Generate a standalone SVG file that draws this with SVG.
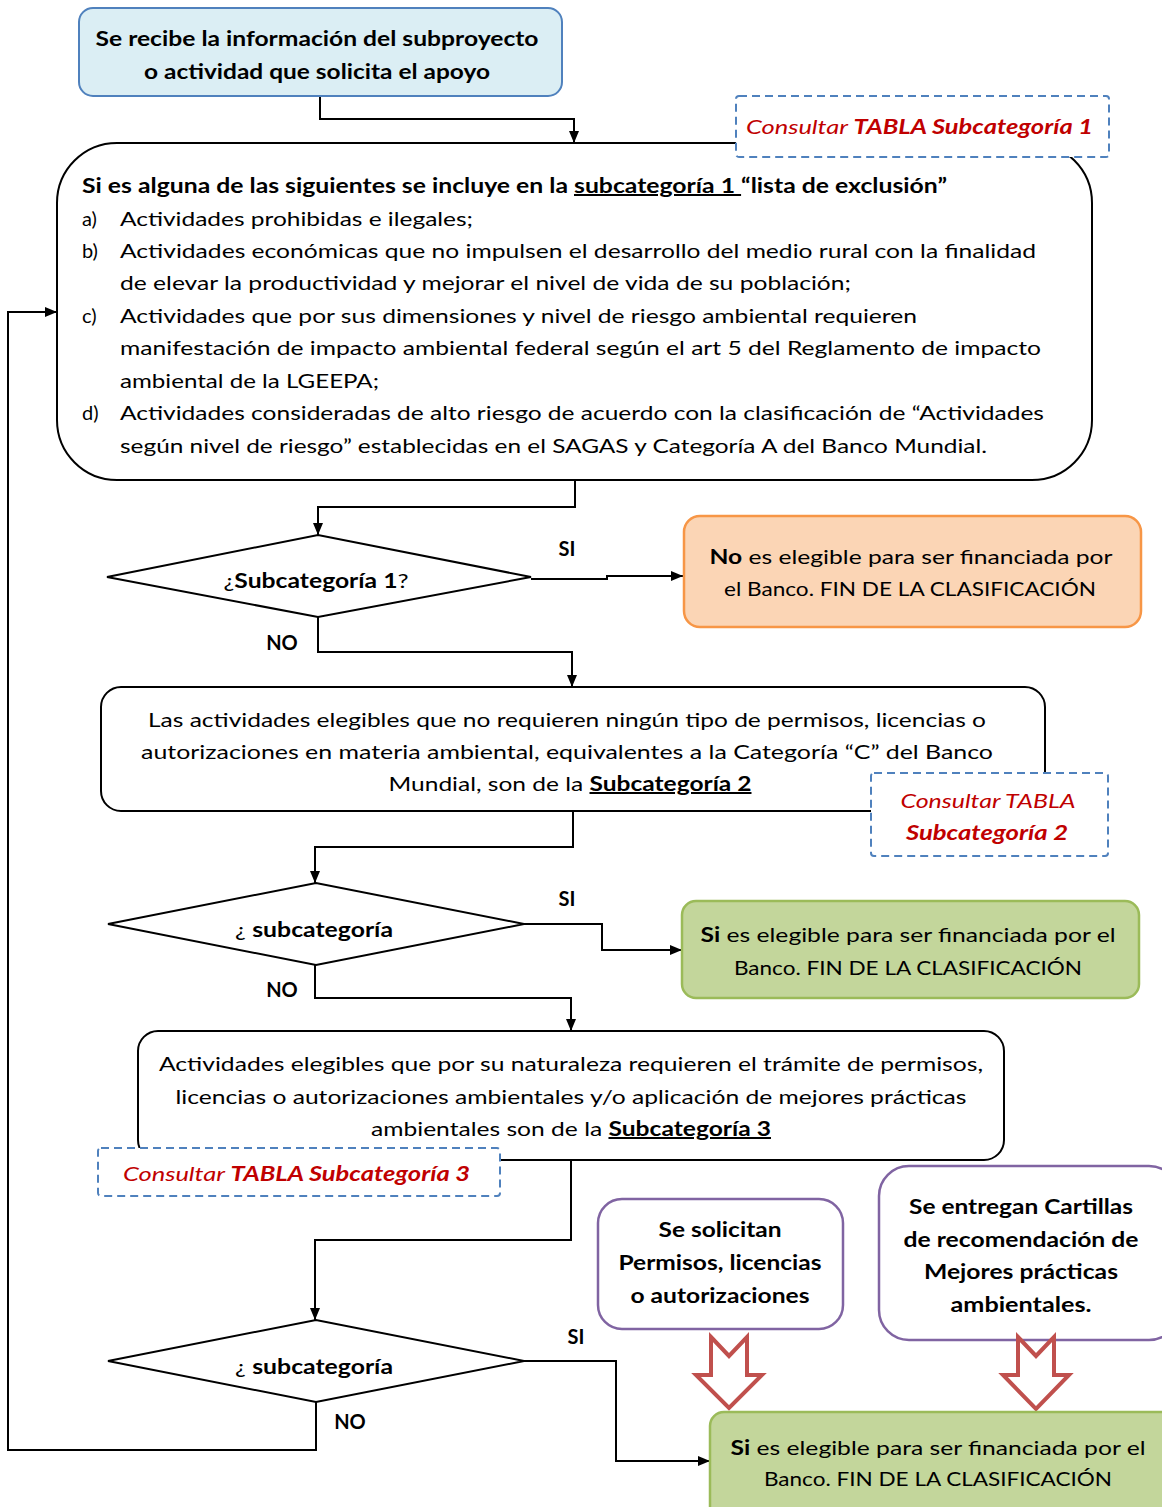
<svg xmlns="http://www.w3.org/2000/svg" width="1162" height="1507" viewBox="0 0 1162 1507">
<style>
.t{font-family:Lato,"Liberation Sans",sans-serif;font-size:20px;fill:#000}
.b{font-weight:bold}
.c{text-anchor:middle}
.u{text-decoration:underline}
.red{fill:#C00000;font-style:italic}
.ln{fill:none;stroke:#000;stroke-width:2}
.dash{fill:#fff;stroke:#4F81BD;stroke-width:2;stroke-dasharray:8 5}
.box{fill:#fff;stroke:#000;stroke-width:2}
.pur{fill:#fff;stroke:#8064A2;stroke-width:2.5}
.grn{fill:#C3D69B;stroke:#9BBB59;stroke-width:2.5}
.hol{fill:#fff;stroke:#C0504D;stroke-width:4;stroke-linejoin:miter}
</style>
<defs>
<marker id="ah" viewBox="0 0 12 10" markerWidth="12" markerHeight="10" refX="12" refY="5" orient="auto" markerUnits="userSpaceOnUse">
<path d="M0,0 L12,5 L0,10 z" fill="#000"/>
</marker>
</defs>
<rect width="1162" height="1507" fill="#fff"/>

<g id="connectors">
<path class="ln" d="M320,96 V119 H574 V143" marker-end="url(#ah)"/>
<path class="ln" d="M575,480 V507 H318 V535" marker-end="url(#ah)"/>
<path class="ln" d="M531,579 H607 V576 H683" marker-end="url(#ah)"/>
<path class="ln" d="M318,617 V652 H572 V687" marker-end="url(#ah)"/>
<path class="ln" d="M573,811 V847 H315 V883" marker-end="url(#ah)"/>
<path class="ln" d="M524,924 H602 V950 H682" marker-end="url(#ah)"/>
<path class="ln" d="M315,965 V998 H571 V1031" marker-end="url(#ah)"/>
<path class="ln" d="M571,1160 V1240 H315 V1320" marker-end="url(#ah)"/>
<path class="ln" d="M524,1361 H616 V1461 H710" marker-end="url(#ah)"/>
<path class="ln" d="M316,1402 V1450 H8 V312 H57" marker-end="url(#ah)"/>
</g>

<g id="start">
<rect x="79" y="8" width="483" height="88" rx="14" fill="#DBEEF4" stroke="#4F81BD" stroke-width="2"/>
<text class="t b c" x="317" y="46" font-size="21" textLength="443" lengthAdjust="spacingAndGlyphs">Se recibe la información del subproyecto</text>
<text class="t b c" x="317" y="79" font-size="21" textLength="346" lengthAdjust="spacingAndGlyphs">o actividad que solicita el apoyo</text>
</g>

<g id="exclusion">
<rect class="box" x="57" y="143" width="1035" height="337" rx="60"/>
<text class="t b" x="82" y="193" textLength="865" lengthAdjust="spacingAndGlyphs">Si es alguna de las siguientes se incluye en la <tspan class="u">subcategoría 1 </tspan>“lista de exclusión”</text>
<text class="t" x="82" y="226">a)</text>
<text class="t" x="120" y="226" textLength="353" lengthAdjust="spacingAndGlyphs">Actividades prohibidas e ilegales;</text>
<text class="t" x="82" y="258">b)</text>
<text class="t" x="120" y="258" textLength="916" lengthAdjust="spacingAndGlyphs">Actividades económicas que no impulsen el desarrollo del medio rural con la finalidad</text>
<text class="t" x="120" y="290" textLength="731" lengthAdjust="spacingAndGlyphs">de elevar la productividad y mejorar el nivel de vida de su población;</text>
<text class="t" x="82" y="323">c)</text>
<text class="t" x="120" y="323" textLength="797" lengthAdjust="spacingAndGlyphs">Actividades que por sus dimensiones y nivel de riesgo ambiental requieren</text>
<text class="t" x="120" y="355" textLength="921" lengthAdjust="spacingAndGlyphs">manifestación de impacto ambiental federal según el art 5 del Reglamento de impacto</text>
<text class="t" x="120" y="388" textLength="259" lengthAdjust="spacingAndGlyphs">ambiental de la LGEEPA;</text>
<text class="t" x="82" y="420">d)</text>
<text class="t" x="120" y="420" textLength="924" lengthAdjust="spacingAndGlyphs">Actividades consideradas de alto riesgo de acuerdo con la clasificación de “Actividades</text>
<text class="t" x="120" y="453" textLength="867" lengthAdjust="spacingAndGlyphs">según nivel de riesgo” establecidas en el SAGAS y Categoría A del Banco Mundial.</text>
</g>

<g id="tabla1">
<rect class="dash" x="736" y="96" width="373" height="61" rx="3"/>
<text class="t red" x="746" y="134" textLength="347" lengthAdjust="spacingAndGlyphs">Consultar <tspan class="b">TABLA Subcategoría 1</tspan></text>
</g>

<g id="decision1">
<polygon class="box" points="107,577 318,535 531,577 318,617"/>
<text class="t c" x="316" y="588" textLength="185" lengthAdjust="spacingAndGlyphs">¿<tspan class="b">Subcategoría 1</tspan>?</text>
<text class="t b c" x="567" y="556">SI</text>
<text class="t b c" x="282" y="650">NO</text>
</g>

<g id="noeligible">
<rect x="684" y="516" width="457" height="111" rx="16" fill="#FBD5B5" stroke="#F79646" stroke-width="2.5"/>
<text class="t c" x="911" y="564" textLength="403" lengthAdjust="spacingAndGlyphs"><tspan class="b">No</tspan> es elegible para ser financiada por</text>
<text class="t c" x="910" y="596" textLength="372" lengthAdjust="spacingAndGlyphs">el Banco. FIN DE LA CLASIFICACIÓN</text>
</g>

<g id="sub2">
<rect class="box" x="101" y="687" width="944" height="124" rx="20"/>
<text class="t c" x="567" y="727" textLength="838" lengthAdjust="spacingAndGlyphs">Las actividades elegibles que no requieren ningún tipo de permisos, licencias o</text>
<text class="t c" x="567" y="759" textLength="852" lengthAdjust="spacingAndGlyphs">autorizaciones en materia ambiental, equivalentes  a la Categoría “C” del Banco</text>
<text class="t c" x="570" y="791" textLength="363" lengthAdjust="spacingAndGlyphs">Mundial, son de la <tspan class="b u">Subcategoría 2</tspan></text>
</g>

<g id="tabla2">
<rect class="dash" x="871" y="773" width="237" height="83" rx="3"/>
<text class="t red c" x="988" y="808" textLength="175" lengthAdjust="spacingAndGlyphs">Consultar TABLA</text>
<text class="t red b c" x="987" y="840" textLength="162" lengthAdjust="spacingAndGlyphs">Subcategoría 2</text>
</g>

<g id="decision2">
<polygon class="box" points="108,924 316,883 524,924 316,965"/>
<text class="t c" x="314" y="937" textLength="158" lengthAdjust="spacingAndGlyphs">¿ <tspan class="b">subcategoría</tspan></text>
<text class="t b c" x="567" y="906">SI</text>
<text class="t b c" x="282" y="997">NO</text>
</g>

<g id="eligible1">
<rect class="grn" x="682" y="901" width="457" height="97" rx="14"/>
<text class="t c" x="908" y="942" textLength="415" lengthAdjust="spacingAndGlyphs"><tspan class="b">Si</tspan> es elegible para ser financiada por el</text>
<text class="t c" x="908" y="975" textLength="348" lengthAdjust="spacingAndGlyphs">Banco. FIN DE LA CLASIFICACIÓN</text>
</g>

<g id="sub3">
<rect class="box" x="138" y="1031" width="866" height="129" rx="20"/>
<text class="t c" x="571" y="1071" textLength="824" lengthAdjust="spacingAndGlyphs">Actividades elegibles que por su naturaleza requieren el trámite de permisos,</text>
<text class="t c" x="571" y="1104" textLength="791" lengthAdjust="spacingAndGlyphs">licencias o autorizaciones ambientales y/o aplicación de mejores prácticas</text>
<text class="t c" x="571" y="1136" textLength="400" lengthAdjust="spacingAndGlyphs">ambientales son de la <tspan class="b u">Subcategoría 3</tspan></text>
</g>

<g id="tabla3">
<rect class="dash" x="98" y="1148" width="402" height="48" rx="3"/>
<text class="t red" x="123" y="1181" textLength="347" lengthAdjust="spacingAndGlyphs">Consultar <tspan class="b">TABLA Subcategoría 3</tspan></text>
</g>

<g id="decision3">
<polygon class="box" points="108,1361 316,1320 524,1361 316,1402"/>
<text class="t c" x="314" y="1374" textLength="158" lengthAdjust="spacingAndGlyphs">¿ <tspan class="b">subcategoría</tspan></text>
<text class="t b c" x="576" y="1344">SI</text>
<text class="t b c" x="350" y="1429">NO</text>
</g>

<g id="permisos">
<rect class="pur" x="598" y="1199" width="245" height="130" rx="24"/>
<text class="t b c" x="720" y="1237" textLength="123" lengthAdjust="spacingAndGlyphs">Se solicitan</text>
<text class="t b c" x="720" y="1270" textLength="203" lengthAdjust="spacingAndGlyphs">Permisos, licencias</text>
<text class="t b c" x="720" y="1303" textLength="179" lengthAdjust="spacingAndGlyphs">o autorizaciones</text>
</g>

<g id="cartillas">
<rect class="pur" x="879" y="1166" width="300" height="174" rx="30"/>
<text class="t b c" x="1021" y="1214" textLength="224" lengthAdjust="spacingAndGlyphs">Se entregan Cartillas</text>
<text class="t b c" x="1021" y="1247" textLength="235" lengthAdjust="spacingAndGlyphs">de recomendación de</text>
<text class="t b c" x="1021" y="1279" textLength="194" lengthAdjust="spacingAndGlyphs">Mejores prácticas</text>
<text class="t b c" x="1021" y="1312" textLength="141" lengthAdjust="spacingAndGlyphs">ambientales.</text>
</g>

<g id="flecha1">
<polygon class="hol" points="711,1337 729,1356 747,1337 747,1375 762,1375 729,1408 696,1375 711,1375"/>
</g>
<g id="flecha2">
<polygon class="hol" points="1018,1337 1036,1356 1054,1337 1054,1375 1069,1375 1036,1409 1003,1375 1018,1375"/>
</g>

<g id="eligible2">
<rect class="grn" x="710" y="1412" width="470" height="110" rx="14"/>
<text class="t c" x="938" y="1455" textLength="415" lengthAdjust="spacingAndGlyphs"><tspan class="b">Si</tspan> es elegible para ser financiada por el</text>
<text class="t c" x="938" y="1486" textLength="348" lengthAdjust="spacingAndGlyphs">Banco. FIN DE LA CLASIFICACIÓN</text>
</g>
</svg>
